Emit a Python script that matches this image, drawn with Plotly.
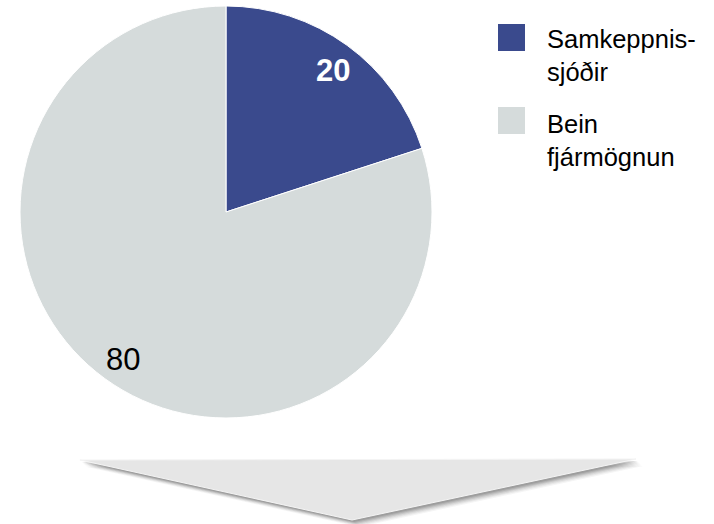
import math
import plotly.graph_objects as go

labels = ["Samkeppnis-<br>sjóðir", "Bein<br>fjármögnun"]
values = [20, 80]
colors = ["#3A4A8D", "#D5DBDB"]
label_colors = ["white", "black"]
label_weights = ["bold", "normal"]

W, H = 714, 524
cx, cy, r = 226, 212, 206

def px(x):
    return x / W

def py(y):
    return 1 - y / H

fig = go.Figure()
fig.add_trace(go.Pie(
    labels=labels,
    values=values,
    marker=dict(colors=colors, line=dict(color="white", width=1)),
    sort=False,
    direction="clockwise",
    rotation=0,
    textinfo="none",
    hoverinfo="label+value",
    showlegend=False,
    domain=dict(x=[px(cx - r), px(cx + r)], y=[py(cy + r), py(cy - r)]),
))

annotations = []
shapes = []

# slice labels along each slice bisector
total = sum(values)
cum = 0
for v, c, wgt in zip(values, label_colors, label_weights):
    mid = (cum + v / 2) / total * 2 * math.pi
    cum += v
    d = 0.87 * r
    ax = cx + d * math.sin(mid) + 2
    ay = cy - d * math.cos(mid) + 3
    txt = f"<b>{v}</b>" if wgt == "bold" else str(v)
    annotations.append(dict(
        x=px(ax), y=py(ay), xref="paper", yref="paper", text=txt,
        showarrow=False, xanchor="center", yanchor="middle",
        font=dict(family="Liberation Sans, Arial", size=31, color=c),
    ))

# manual legend
legend_rows = [(24, 56), (107, 140)]
for (sq_top, txt_mid), lab, col in zip(legend_rows, labels, colors):
    shapes.append(dict(
        type="rect", xref="paper", yref="paper",
        x0=px(498), x1=px(525), y0=py(sq_top + 27), y1=py(sq_top),
        fillcolor=col, line=dict(width=0),
    ))
    annotations.append(dict(
        x=px(545), y=py(txt_mid), xref="paper", yref="paper", text=lab,
        showarrow=False, xanchor="left", yanchor="middle", align="left",
        font=dict(family="Liberation Sans, Arial", size=25.5, color="black"),
    ))

# decorative arrow with soft shadow
def arrow_path(dx, dy):
    pts = [(80 + dx, 460 + dy), (636 + dx, 459 + dy), (352 + dx, 520 + dy)]
    s = "M {:.5f} {:.5f}".format(px(pts[0][0]), py(pts[0][1]))
    for x, y in pts[1:]:
        s += " L {:.5f} {:.5f}".format(px(x), py(y))
    return s + " Z"

for dx, dy, op in [(7, 7, 0.05), (6, 6, 0.07), (5, 5, 0.09), (4, 4, 0.12), (3, 3, 0.15), (2, 2, 0.18)]:
    shapes.append(dict(type="path", xref="paper", yref="paper", path=arrow_path(dx, dy),
                       fillcolor="#404040", opacity=op, line=dict(width=0)))
shapes.append(dict(type="path", xref="paper", yref="paper", path=arrow_path(0, 0),
                   fillcolor="#E6E6E6", line=dict(color="#F4F4F4", width=1)))

fig.update_layout(
    width=W, height=H,
    margin=dict(l=0, r=0, t=0, b=0),
    paper_bgcolor="white", plot_bgcolor="white",
    annotations=annotations, shapes=shapes,
)

fig.write_html(
    "out.html",
    config={"displayModeBar": False},
    post_script="document.body.style.margin='0';document.body.style.padding='0';",
)
